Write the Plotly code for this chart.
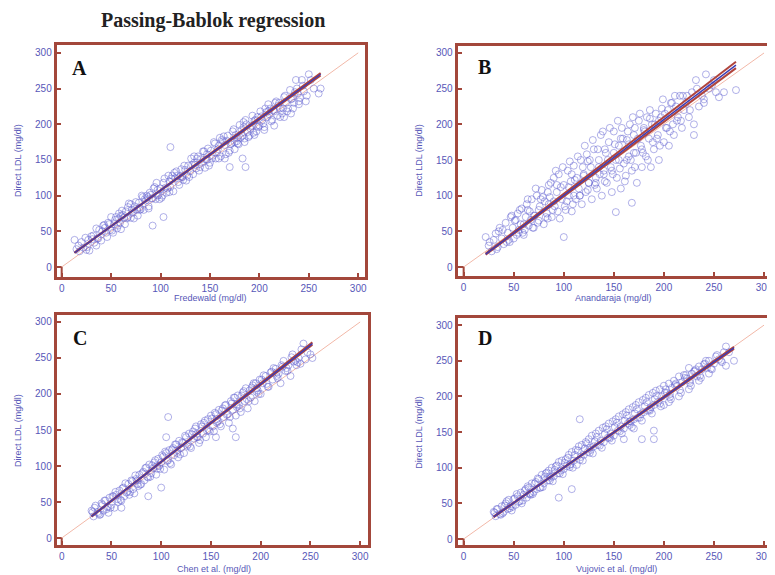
import plotly.graph_objects as go

# ---------------- data ----------------
tick_vals = [0, 50, 100, 150, 200, 250, 300]
tick_text = ["0", "50", "100", "150", "200", "250", "300"]

panel_letters = ["A", "B", "C", "D"]
x_titles = ["Fredewald (mg/dl)", "Anandaraja (mg/dl)", "Chen et al. (mg/dl)", "Vujovic et al. (mg/dl)"]
y_title = "Direct LDL (mg/dl)"

a_x = [15,18,20,22,24,25,27,28,30,31,33,35,36,38,40,41,43,45,46,48,50,51,53,55,56,58,60,61,63,65,66,68,70,71,73,75,76,78,80,81,83,85,86,88,90,91,93,95,96,98,100,101,103,105,106,108,110,111,113,115,116,118,120,121,123,125,126,128,130,131,133,135,136,138,140,141,143,145,146,148,150,151,153,155,156,158,160,161,163,165,166,168,170,171,173,175,176,178,180,181,183,185,186,188,190,192,194,196,198,200,202,204,206,208,210,212,214,216,218,220,223,226,229,232,235,238,241,245,250,255,260,262,237,243,13,92,103,110,170,186,183,
       60,72,84,97,109,122,134,147,159,172,184,197,209,221,
       35,42,52,58,64,70,77,82,88,94,99,104,109,114,119,124,129,134,139,144,149,154,159,164,169,174,179,184,189,193,197,201,205,209,213,217,221,225,228,231,234,240,248,252,47,57,67,79,89,102,112,127,137,152,162,177,187,199,211,224,236,
       17,26,32,37,44,49,54,59,62,67,74,79,87,92,97,107,117,122,132,142,147,157,167,178,182,191,195,203,207,215,219,227,233,239,244,
       195,205,215,225,232,240,247,185,175,165]
a_y = [25,22,35,27,41,24,38,23,43,39,34,54,40,52,37,50,59,48,42,60,70,51,60,70,54,68,53,79,69,78,68,89,69,80,68,91,80,90,81,100,80,93,100,82,101,96,110,95,118,101,110,97,118,111,104,128,112,124,106,124,134,119,127,137,122,136,121,142,134,152,130,143,138,155,140,151,162,139,151,166,146,163,156,173,152,165,181,155,176,171,158,184,163,172,190,175,185,173,199,181,184,180,206,189,184,198,188,206,210,198,211,201,222,210,214,204,220,230,212,230,215,240,222,235,230,250,237,246,270,250,243,250,262,262,38,58,70,168,140,140,152,
       72,76,95,100,120,126,146,150,170,174,196,197,218,222,
       30,58,48,75,60,88,72,98,85,112,95,124,105,132,115,142,126,155,135,162,142,175,152,183,160,193,172,203,182,212,190,218,196,228,206,232,210,238,218,248,222,232,240,262,62,58,84,80,104,100,128,128,152,152,178,176,200,196,222,222,245,
       30,28,44,40,55,52,66,62,73,70,85,83,98,96,108,110,128,126,143,146,158,160,177,181,192,194,205,206,217,218,226,230,236,243,254,
       185,192,198,210,215,228,232,175,165,152]

b_x = [22,25,28,30,32,34,36,38,40,42,44,45,47,49,50,52,54,55,57,58,60,62,63,65,66,68,70,71,73,75,76,78,80,81,83,85,86,88,90,91,93,95,96,98,100,100,102,104,105,107,108,110,112,113,115,117,118,120,122,123,125,127,128,130,132,133,135,137,138,140,142,143,145,147,148,150,152,152,153,155,157,158,160,162,163,165,166,168,168,170,172,173,175,177,178,180,182,183,185,187,188,190,192,194,195,197,199,200,202,204,205,207,209,210,212,214,216,218,220,222,225,228,230,230,232,235,238,240,242,245,248,252,255,272,
       60,75,90,105,120,135,150,165,180,195,110,125,140,155,170,85,70,55,
       35,43,48,53,56,61,64,67,72,74,79,82,84,87,89,92,94,97,99,103,106,109,111,114,116,119,121,124,126,129,131,134,136,139,141,144,146,149,151,154,156,159,161,164,167,169,171,174,176,179,181,184,186,189,191,196,201,206,211,217,223,
       26,33,39,46,51,59,64,69,77,84,93,101,108,116,124,132,141,148,157,163,171,178,186,193,198,203,208,213,219,226,233,240,250,260]
b_y = [42,30,22,38,47,28,55,40,32,62,48,38,70,55,40,66,75,48,60,82,45,70,88,58,78,95,55,72,100,65,85,108,60,92,75,115,98,70,125,85,105,130,68,95,42,115,80,135,100,120,78,142,95,125,110,150,88,130,105,158,118,140,95,165,125,110,150,185,100,135,160,118,175,140,105,190,77,150,125,170,110,195,145,128,178,155,200,90,135,185,160,118,205,170,140,195,155,210,180,140,200,165,215,185,150,210,235,175,195,220,170,230,200,185,225,210,240,195,220,230,210,245,185,200,262,225,240,230,270,250,255,245,238,248,
       60,80,92,112,128,140,160,172,192,205,100,118,130,150,160,88,72,52,
       50,35,72,45,80,52,95,66,110,62,98,70,105,118,80,135,78,112,140,92,148,88,122,155,100,140,170,108,150,178,115,165,130,190,120,150,195,130,172,205,138,180,120,190,150,210,140,180,215,160,190,150,220,175,200,170,215,190,240,205,240,
       35,25,52,35,65,48,80,55,95,68,115,85,130,100,148,118,165,135,180,150,195,165,208,180,222,195,230,205,240,220,250,235,262,245]

c_x = [30,32,34,36,38,40,42,44,45,47,48,50,52,53,55,57,58,60,62,63,65,67,68,70,72,73,75,77,78,80,82,83,85,87,88,90,92,93,95,97,98,100,101,103,105,107,108,110,112,113,115,117,118,120,122,123,125,127,128,130,132,133,135,137,138,140,142,143,145,147,148,150,152,153,155,157,158,160,162,163,165,167,168,170,172,173,175,177,178,180,182,184,185,187,189,190,192,194,195,197,199,200,202,205,207,210,212,215,218,220,222,225,228,230,233,236,238,240,243,245,250,252,107,105,100,87,175,172,60,155,
       76,96,116,136,156,176,196,216,
       33,39,43,49,54,59,64,69,74,79,84,89,94,99,104,109,114,119,124,129,134,139,144,149,154,159,164,169,174,179,183,188,193,198,203,208,213,217,223,227,232,237,247,
       31,37,41,46,51,56,61,66,71,76,81,86,91,96,102,106,111,116,121,126,131,136,141,146,151,156,161,166,171,176,181,186,191,196,201,206,211,216,221,226,231,235,241]
c_y = [38,30,45,36,32,48,38,52,40,35,56,46,58,42,60,50,66,52,70,58,63,75,60,80,68,62,82,72,88,75,92,80,98,84,102,90,97,105,88,110,100,105,115,95,118,108,122,102,125,115,130,112,135,125,132,118,140,130,145,125,148,138,155,140,132,158,145,160,140,165,150,170,155,148,172,162,178,155,180,168,185,172,160,190,178,195,170,198,185,175,202,190,208,180,205,195,212,190,215,205,220,200,215,225,210,230,220,235,228,215,238,232,240,225,245,240,250,242,270,248,255,250,168,140,70,58,140,152,42,140,
       80,100,122,145,165,185,208,230,
       42,33,52,42,64,53,76,64,87,74,97,85,108,96,120,104,130,116,142,127,152,136,163,148,174,158,184,168,195,180,204,190,215,200,226,210,236,222,246,232,255,244,258,
       36,34,46,43,58,54,69,64,79,75,90,85,101,96,113,107,123,118,133,128,144,140,155,149,166,160,177,171,187,182,198,193,209,203,220,214,231,225,240,236,251,246,262]

d_x = [30,32,34,36,38,40,42,44,45,47,48,50,52,54,55,57,58,60,62,63,65,67,68,70,72,73,75,77,78,80,82,84,85,87,88,90,92,94,95,97,98,100,102,103,105,107,108,110,112,113,115,117,118,120,122,124,125,127,128,130,132,134,135,137,139,140,142,144,145,147,149,150,152,154,155,157,159,160,162,164,165,167,169,170,172,174,175,177,179,180,182,184,185,187,189,190,192,194,196,198,200,203,205,208,210,213,215,218,220,223,225,228,230,233,235,238,240,243,245,250,255,260,262,262,270,116,95,108,190,178,190,170,160,
       66,86,106,126,146,166,186,206,226,
       33,39,43,49,53,59,64,69,74,79,83,89,93,99,104,109,114,119,123,129,133,138,143,148,153,158,163,168,173,178,183,188,193,197,202,207,212,217,222,227,232,237,242,248,253,258,
       31,37,41,46,51,56,61,66,71,76,81,86,91,96,101,106,111,116,121,126,131,136,141,146,151,156,161,166,171,176,181,186,191,196,201,206,211,216,221,226,231,236,241,247,252,257,265,
       205,215,225,235,245,200]
d_y = [38,32,42,35,46,38,50,42,55,46,40,56,48,60,52,65,50,62,70,58,72,62,78,66,80,70,84,72,90,78,92,82,96,86,100,88,102,92,108,96,110,98,112,102,118,105,122,110,125,104,130,115,132,118,136,122,140,125,145,130,148,132,152,138,156,136,158,142,162,148,165,145,168,152,172,158,175,155,178,162,182,165,185,168,188,170,192,175,195,178,198,180,202,185,205,188,208,192,210,200,215,205,218,212,222,215,228,220,230,225,240,232,235,228,242,238,245,240,250,246,252,262,270,243,250,168,58,70,140,140,152,155,140,
       64,88,104,128,143,165,182,203,222,
       42,36,53,45,63,54,74,63,85,73,93,81,103,91,114,100,124,110,134,120,143,128,154,138,163,148,173,157,182,166,192,176,201,186,210,196,218,205,230,215,238,226,250,238,258,248,
       37,34,47,43,57,53,68,63,78,72,87,82,97,92,107,101,118,111,127,121,137,131,147,141,157,151,166,160,176,170,186,180,196,190,205,199,216,209,226,219,236,229,246,239,256,250,262,
       192,200,210,222,232,188]

xs = [a_x, b_x, c_x, d_x]
ys = [a_y, b_y, c_y, d_y]

# Passing-Bablok fit results (intercept, slope) and confidence bounds
reg_intercept = [6.95, -5.3, -2.4, 1.4]
reg_slope = [1.004, 1.06, 1.081, 0.988]
ci_lo_intercept = [7.4, -5.7, -1.8, 1.9]
ci_lo_slope = [0.996, 1.046, 1.072, 0.981]
ci_hi_intercept = [6.5, -4.9, -3.0, 0.9]
ci_hi_slope = [1.012, 1.076, 1.09, 0.995]

# ---------------- layout geometry ----------------
OFF = 8                      # page body margin of the html page
W, H = 775 - OFF, 575 - OFF  # figure size


def px(p):
    return (p - OFF) / W


def py(p):
    return 1 - (p - OFF) / H


# pixel boxes on the page (left, right, top, bottom) and data ranges
boxes = [(57, 367, 45, 277), (460, 773, 46, 276), (57, 370, 315, 545), (460, 773, 318, 545)]
xranges = [[-5, 307], [-6, 305], [-5, 308], [-6, 305]]
yranges = [[-14, 311], [-12.6, 309.8], [-9.7, 309.7], [-8.4, 310]]

frame_col = "#a3473b"
text_col = "#5757b8"
marker_col = "rgba(100,100,210,0.5)"

fig = go.Figure()
for i in range(4):
    xa = "x" if i == 0 else f"x{i+1}"
    ya = "y" if i == 0 else f"y{i+1}"
    # identity line
    fig.add_trace(go.Scatter(x=[tick_vals[0], tick_vals[-1]], y=[tick_vals[0], tick_vals[-1]],
                             mode="lines", line=dict(color="#f2b8a8", width=1),
                             xaxis=xa, yaxis=ya, hoverinfo="skip"))
    fig.add_trace(go.Scatter(x=xs[i], y=ys[i], mode="markers",
                             marker=dict(symbol="circle-open", size=7, color=marker_col,
                                         line=dict(width=1, color=marker_col)),
                             xaxis=xa, yaxis=ya))
    x0, x1 = min(xs[i]), max(xs[i])
    for ic, sl in ((ci_lo_intercept[i], ci_lo_slope[i]), (ci_hi_intercept[i], ci_hi_slope[i])):
        fig.add_trace(go.Scatter(x=[x0, x1], y=[ic + sl * x0, ic + sl * x1], mode="lines",
                                 line=dict(color="#b0443c", width=2), xaxis=xa, yaxis=ya,
                                 hoverinfo="skip"))
    fig.add_trace(go.Scatter(x=[x0, x1], y=[reg_intercept[i] + reg_slope[i] * x0,
                                          reg_intercept[i] + reg_slope[i] * x1],
                             mode="lines", line=dict(color="#3c3cb4", width=1.4),
                             xaxis=xa, yaxis=ya, hoverinfo="skip"))

axis_common = dict(showgrid=False, zeroline=False, showline=True, mirror=True,
                   linewidth=3, linecolor=frame_col, ticks="inside", ticklen=4,
                   tickwidth=2, tickcolor=frame_col, tickvals=tick_vals, ticktext=tick_text,
                   tickfont=dict(family="Liberation Sans, Arial", size=10, color=text_col))

layout = dict(width=W, height=H, margin=dict(l=0, r=0, t=0, b=0),
              paper_bgcolor="white", plot_bgcolor="white", showlegend=False)
for i in range(4):
    l, r, t, b = boxes[i]
    xk = "xaxis" if i == 0 else f"xaxis{i+1}"
    yk = "yaxis" if i == 0 else f"yaxis{i+1}"
    layout[xk] = dict(axis_common, domain=[px(l), px(r)], range=xranges[i],
                      anchor="y" if i == 0 else f"y{i+1}")
    layout[yk] = dict(axis_common, domain=[py(b), py(t)], range=yranges[i],
                      anchor="x" if i == 0 else f"x{i+1}")
fig.update_layout(**layout)

# small origin corner marks
for i in range(4):
    xr = "x" if i == 0 else f"x{i+1}"
    yr = "y" if i == 0 else f"y{i+1}"
    fig.add_shape(type="line", xref=xr, yref=yr, x0=xranges[i][0], x1=0, y0=0, y1=0,
                  line=dict(color=frame_col, width=2))
    fig.add_shape(type="line", xref=xr, yref=yr, x0=0, x1=0, y0=yranges[i][0], y1=0,
                  line=dict(color=frame_col, width=2))

# title
fig.add_annotation(text="<b>Passing-Bablok regression</b>", x=px(214), y=py(21),
                   xref="paper", yref="paper", showarrow=False, xanchor="center", yanchor="middle",
                   font=dict(family="Liberation Serif, Times New Roman", size=20, color="#222"))

letter_pos = [(80, 68), (487, 67), (80, 338), (487, 338)]
xtitle_pos = [(212, 298), (617, 298), (215, 569), (620, 569)]
ytitle_pos = [(18, 160), (421, 160), (18, 430), (421, 432)]
for i in range(4):
    lx, ly = letter_pos[i]
    fig.add_annotation(text=f"<b>{panel_letters[i]}</b>", x=px(lx), y=py(ly),
                       xref="paper", yref="paper", showarrow=False,
                       xanchor="center", yanchor="middle",
                       font=dict(family="Liberation Serif, Times New Roman", size=20, color="#111"))
    tx, ty = xtitle_pos[i]
    fig.add_annotation(text=x_titles[i], x=px(tx), y=py(ty), xref="paper", yref="paper",
                       showarrow=False, xanchor="center", yanchor="middle",
                       font=dict(family="Liberation Sans, Arial", size=9, color=text_col))
    yx, yy = ytitle_pos[i]
    fig.add_annotation(text=y_title, x=px(yx), y=py(yy), xref="paper", yref="paper",
                       showarrow=False, textangle=-90, xanchor="center", yanchor="middle",
                       font=dict(family="Liberation Sans, Arial", size=9, color=text_col))

fig.write_html("out.html")
